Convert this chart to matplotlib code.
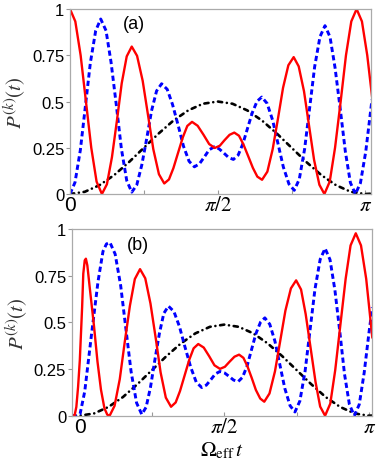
import numpy as np
import matplotlib
matplotlib.use("Agg")
import matplotlib.pyplot as plt
from matplotlib.ticker import FixedLocator

plt.rcParams['font.family'] = ['Liberation Sans', 'DejaVu Sans']
plt.rcParams['mathtext.fontset'] = 'stix'

# ---- panel (a) : times in units of pi ----
t_red_a = [0.000, 0.018, 0.036, 0.054, 0.072, 0.090, 0.108,
           0.125, 0.142, 0.159, 0.175, 0.192, 0.209,
           0.227, 0.246, 0.264, 0.282, 0.301, 0.319,
           0.335, 0.350, 0.366, 0.382, 0.397, 0.413,
           0.432, 0.452, 0.471, 0.490,
           0.507, 0.523, 0.540, 0.556,
           0.572, 0.587, 0.603, 0.619, 0.634, 0.650,
           0.668, 0.686, 0.704, 0.721, 0.739, 0.757,
           0.774, 0.792, 0.809, 0.826, 0.844, 0.861,
           0.879, 0.897, 0.916, 0.934, 0.952, 0.970,
           0.988, 1.006, 1.022]
p_red_a = [1.000, 0.933, 0.750, 0.500, 0.250, 0.067, 0.000,
           0.053, 0.199, 0.399, 0.598, 0.744, 0.797,
           0.747, 0.612, 0.427, 0.242, 0.107, 0.057,
           0.079, 0.140, 0.224, 0.307, 0.368, 0.390,
           0.369, 0.320, 0.270, 0.249,
           0.261, 0.291, 0.320, 0.332,
           0.315, 0.268, 0.205, 0.141, 0.094, 0.077,
           0.121, 0.243, 0.409, 0.574, 0.696, 0.740,
           0.690, 0.555, 0.370, 0.185, 0.050, 0.000,
           0.067, 0.250, 0.500, 0.750, 0.933, 1.000,
           0.933, 0.750, 0.530]

t_blue_a = [0.000, 0.017, 0.035, 0.052, 0.069, 0.087, 0.104,
            0.122, 0.139, 0.157, 0.174, 0.192, 0.209,
            0.226, 0.243, 0.260, 0.276, 0.293, 0.310,
            0.329, 0.347, 0.366, 0.384, 0.403, 0.421,
            0.438, 0.455, 0.471, 0.488,
            0.504, 0.521, 0.537, 0.553,
            0.569, 0.585, 0.601, 0.617, 0.633, 0.649,
            0.667, 0.686, 0.704, 0.722, 0.741, 0.759,
            0.776, 0.794, 0.811, 0.828, 0.846, 0.863,
            0.880, 0.897, 0.915, 0.932, 0.949, 0.966,
            0.983, 1.001, 1.022]
p_blue_a = [0.000, 0.063, 0.237, 0.473, 0.710, 0.883, 0.946,
            0.883, 0.712, 0.478, 0.244, 0.073, 0.010,
            0.049, 0.157, 0.303, 0.450, 0.557, 0.596,
            0.566, 0.484, 0.372, 0.259, 0.177, 0.147,
            0.163, 0.201, 0.239, 0.255,
            0.245, 0.221, 0.197, 0.187,
            0.210, 0.271, 0.356, 0.440, 0.501, 0.524,
            0.490, 0.398, 0.272, 0.146, 0.054, 0.020,
            0.080, 0.243, 0.465, 0.688, 0.850, 0.910,
            0.849, 0.683, 0.455, 0.228, 0.061, 0.000,
            0.060, 0.230, 0.510]

t_black_a = [0.00, 0.05, 0.10, 0.15, 0.20, 0.25, 0.30, 0.35, 0.40, 0.45, 0.50,
             0.55, 0.60, 0.65, 0.70, 0.75, 0.80, 0.85, 0.90, 0.95, 1.00, 1.022]
p_black_a = [0.000, 0.012, 0.048, 0.103, 0.173, 0.250, 0.327, 0.397, 0.452, 0.488, 0.500,
             0.488, 0.452, 0.397, 0.327, 0.250, 0.173, 0.103, 0.048, 0.012, 0.000, 0.002]

# ---- panel (b) ----
t_red_b = [-0.027, -0.017, -0.011, -0.005, 0.001, 0.004, 0.009, 0.013, 0.018, 0.022, 0.027,
           0.035, 0.050, 0.062, 0.074, 0.086, 0.096, 0.104,
           0.121, 0.139, 0.156, 0.174, 0.191, 0.209,
           0.227, 0.245, 0.263, 0.280, 0.298, 0.316,
           0.332, 0.347, 0.363, 0.379, 0.394, 0.410,
           0.429, 0.448, 0.466, 0.485,
           0.502, 0.518, 0.535, 0.551,
           0.566, 0.580, 0.595, 0.609, 0.624, 0.638,
           0.656, 0.675, 0.693, 0.711, 0.730, 0.748,
           0.765, 0.781, 0.798, 0.815, 0.831, 0.848,
           0.866, 0.883, 0.901, 0.919, 0.936, 0.954,
           0.972, 0.990, 1.011]
p_red_b = [0.000, 0.002, 0.047, 0.154, 0.297, 0.404, 0.582, 0.761, 0.832, 0.841, 0.805,
           0.690, 0.480, 0.290, 0.140, 0.040, 0.005, 0.000,
           0.053, 0.196, 0.393, 0.589, 0.732, 0.785,
           0.736, 0.601, 0.417, 0.232, 0.097, 0.048,
           0.071, 0.132, 0.216, 0.300, 0.361, 0.384,
           0.365, 0.318, 0.270, 0.251,
           0.262, 0.289, 0.316, 0.327,
           0.310, 0.264, 0.201, 0.138, 0.092, 0.075,
           0.119, 0.238, 0.400, 0.563, 0.682, 0.725,
           0.676, 0.544, 0.363, 0.181, 0.049, 0.000,
           0.065, 0.244, 0.489, 0.733, 0.912, 0.977,
           0.912, 0.733, 0.420]

t_blue_b = [-0.027, -0.010, 0.002, 0.018, 0.041, 0.064, 0.081, 0.093, 0.105,
            0.123, 0.142, 0.160, 0.178, 0.197, 0.215,
            0.230, 0.245, 0.260, 0.276, 0.291, 0.307,
            0.326, 0.345, 0.364, 0.384, 0.403, 0.422,
            0.438, 0.454, 0.469, 0.485,
            0.501, 0.517, 0.532, 0.548,
            0.563, 0.579, 0.594, 0.609, 0.625, 0.640,
            0.657, 0.675, 0.692, 0.709, 0.727, 0.744,
            0.761, 0.779, 0.796, 0.813, 0.831, 0.848,
            0.865, 0.882, 0.899, 0.915, 0.932, 0.949,
            0.966, 0.983, 1.000, 1.011]
p_blue_b = [0.000, 0.000, 0.010, 0.130, 0.430, 0.720, 0.880, 0.920, 0.928,
            0.866, 0.698, 0.467, 0.237, 0.069, 0.007,
            0.046, 0.152, 0.297, 0.442, 0.548, 0.587,
            0.558, 0.478, 0.369, 0.260, 0.180, 0.151,
            0.164, 0.194, 0.224, 0.237,
            0.229, 0.210, 0.191, 0.183,
            0.206, 0.268, 0.354, 0.439, 0.501, 0.524,
            0.490, 0.398, 0.272, 0.146, 0.054, 0.020,
            0.079, 0.239, 0.458, 0.677, 0.837, 0.896,
            0.836, 0.672, 0.448, 0.224, 0.060, 0.000,
            0.060, 0.230, 0.450, 0.580]

t_black_b = [-0.027, 0.00, 0.05, 0.10, 0.15, 0.20, 0.25, 0.30, 0.35, 0.40, 0.45, 0.50,
             0.55, 0.60, 0.65, 0.70, 0.75, 0.80, 0.85, 0.90, 0.95, 1.00, 1.011]
p_black_b = [0.000, 0.000, 0.012, 0.047, 0.100, 0.169, 0.244, 0.319, 0.387, 0.441, 0.476, 0.488,
             0.476, 0.441, 0.387, 0.319, 0.244, 0.169, 0.100, 0.047, 0.012, 0.000, 0.001]

yticks = [0, 0.25, 0.5, 0.75, 1]
ytick_labels = ['0', '0.25', '0.5', '0.75', '1']
xticks = [0, np.pi / 2, np.pi]
xtick_labels = ['0', r'$\pi/2$', r'$\pi$']

fig = plt.figure(figsize=(3.81, 4.64), dpi=100)
ax_a = fig.add_axes([0.1837, 0.5797, 0.7913, 0.3987])
ax_b = fig.add_axes([0.1882, 0.1019, 0.7874, 0.4024])

panels = [
    (ax_a, t_red_a, p_red_a, t_blue_a, p_blue_a, t_black_a, p_black_a, (0, 1.0203), '(a)', (0.212, 0.924)),
    (ax_b, t_red_b, p_red_b, t_blue_b, p_blue_b, t_black_b, p_black_b, (-0.027, 1.009), '(b)', (0.222, 0.916)),
]

for ax, tr, pr, tb, pb, tk, pk, xl, lab, labpos in panels:
    ax.plot(np.array(tk) * np.pi, pk, color='black', lw=1.9,
            linestyle=(0, (1.6, 1.8, 0.01, 1.8)), dash_capstyle='round')
    ax.plot(np.array(tb) * np.pi, pb, color='#0000ff', lw=2.1,
            linestyle=(0, (1.8, 1.1)))
    ax.plot(np.array(tr) * np.pi, pr, color='#ff0000', lw=1.7)
    ax.set_xlim(xl[0] * np.pi, xl[1] * np.pi)
    ax.set_ylim(0, 1)
    ax.set_yticks(yticks)
    ax.set_yticklabels(ytick_labels, fontsize=12)
    ax.set_xticks(xticks)
    ax.set_xticklabels(xtick_labels, fontsize=15)
    ax.xaxis.set_minor_locator(FixedLocator([np.pi / 4, 3 * np.pi / 4]))
    ax.tick_params(axis='y', direction='out', length=3, width=0.8, color='#999999', pad=1)
    ax.tick_params(axis='x', which='both', direction='in', length=3, width=0.8,
                   color='#999999', pad=1)
    for sp in ax.spines.values():
        sp.set_color('#aaaaaa')
        sp.set_linewidth(0.9)
    ax.set_ylabel(r'$P^{(k)}(t)$', fontsize=15, color='#333333', labelpad=3)
    ax.text(labpos[0], labpos[1], lab, transform=ax.transAxes, fontsize=13,
            ha='center', va='center')

ax_b.set_xlabel(r'$\Omega_{\rm eff}\, t$', fontsize=15, labelpad=2)

fig.savefig('out.png', dpi=100)
